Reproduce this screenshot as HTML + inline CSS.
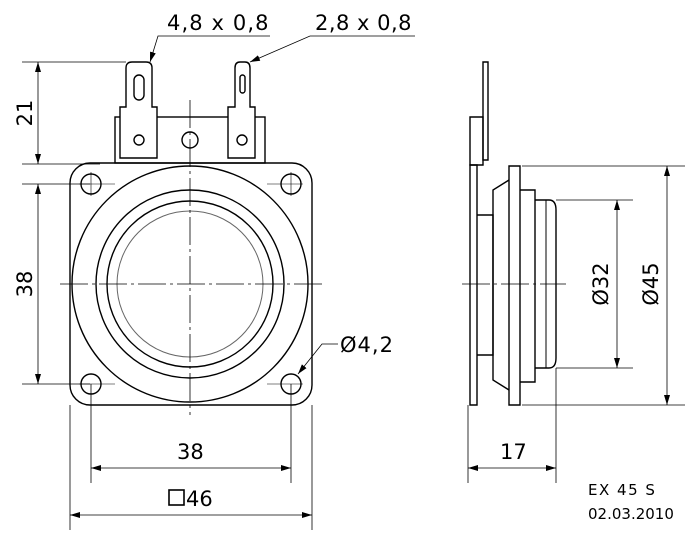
<!DOCTYPE html>
<html><head><meta charset="utf-8"><style>
html,body{margin:0;padding:0;background:#fff;width:700px;height:545px;overflow:hidden}
text{font-family:"DejaVu Sans","Liberation Sans",sans-serif;fill:#000}
</style></head><body>
<svg width="700" height="545" viewBox="0 0 700 545" xmlns="http://www.w3.org/2000/svg">
<defs>
<marker id="a" viewBox="0 0 10 6" refX="10" refY="3" markerWidth="10" markerHeight="6" orient="auto-start-reverse" markerUnits="userSpaceOnUse"><path d="M0,0L10,3L0,6z" fill="#000"/></marker>
</defs>
<g fill="none" stroke="#000" stroke-width="1.4">
<rect x="70" y="163" width="242" height="242" rx="20"/>
<circle cx="190" cy="284" r="118"/>
<circle cx="190" cy="284" r="94"/>
<circle cx="190" cy="284" r="83"/>
<circle cx="190" cy="284" r="73" stroke="#666" stroke-width="1"/>
<circle cx="91" cy="184" r="10"/><circle cx="291" cy="184" r="10"/>
<circle cx="91" cy="384" r="10"/><circle cx="291" cy="384" r="10"/>
<rect x="115" y="117" width="150" height="46"/>
<circle cx="190" cy="140" r="8"/>
<path d="M120,158V107H126V68Q126,62 132,62H146Q152,62 152,68V107H157V158Z" fill="#fff"/>
<rect x="134" y="75" width="10" height="25" rx="5"/>
<circle cx="139" cy="140" r="5"/>
<path d="M228,158V107H235V68Q235,62 240,62H245Q250,62 250,68V107H255V158Z" fill="#fff"/>
<rect x="240" y="75" width="5" height="18" rx="2.5"/>
<circle cx="242" cy="140" r="5"/>
<path d="M470,165H477V405H470Z"/>
<path d="M470,117H483V165H470Z"/>
<path d="M483,62H488V160H483Z"/>
<path d="M477,215H493V355H477"/>
<path d="M509,166H520V405H509Z"/>
<path d="M509,180L493,190V380L509,390"/>
<path d="M520,190H535V382H520"/>
<path d="M535,200H549Q556,200 556,210V358Q556,368 549,368H535"/>
<line x1="546" y1="200" x2="546" y2="368" stroke-width="1"/>
</g>
<g stroke="#000" stroke-width="0.8" fill="none">
<line x1="190" y1="100" x2="190" y2="415" stroke-dasharray="28,4,3,4"/>
<line x1="60" y1="284" x2="322" y2="284" stroke-dasharray="28,4,3,4"/>
<line x1="462" y1="284" x2="566" y2="284" stroke-dasharray="28,4,3,4"/>
<g stroke-width="0.6">
<line x1="91" y1="172" x2="91" y2="196"/><line x1="79" y1="184" x2="115" y2="184"/>
<line x1="291" y1="172" x2="291" y2="196"/><line x1="267" y1="184" x2="303" y2="184"/>
<line x1="79" y1="384" x2="115" y2="384"/><line x1="267" y1="384" x2="303" y2="384"/>
</g>
</g>
<g stroke="#000" stroke-width="0.8" fill="none">
<line x1="22" y1="62" x2="126" y2="62"/>
<line x1="22" y1="164" x2="100" y2="164"/>
<line x1="38" y1="62" x2="38" y2="164" marker-start="url(#a)" marker-end="url(#a)"/>
<line x1="22" y1="184" x2="90" y2="184"/>
<line x1="22" y1="384" x2="90" y2="384"/>
<line x1="38" y1="184" x2="38" y2="384" marker-start="url(#a)" marker-end="url(#a)"/>
<line x1="91" y1="384" x2="91" y2="483"/>
<line x1="291" y1="384" x2="291" y2="483"/>
<line x1="91" y1="468" x2="291" y2="468" marker-start="url(#a)" marker-end="url(#a)"/>
<line x1="70" y1="405" x2="70" y2="530"/>
<line x1="312" y1="405" x2="312" y2="530"/>
<line x1="70" y1="515" x2="312" y2="515" marker-start="url(#a)" marker-end="url(#a)"/>
<polyline points="270,36 158,36 150,62" marker-end="url(#a)"/>
<polyline points="415,36 310,36 250,62" marker-end="url(#a)"/>
<polyline points="338,344 322,344 298,374" marker-end="url(#a)"/>
<line x1="468" y1="405" x2="468" y2="483"/>
<line x1="556" y1="368" x2="556" y2="483"/>
<line x1="468" y1="468" x2="556" y2="468" marker-start="url(#a)" marker-end="url(#a)"/>
<line x1="522" y1="166" x2="685" y2="166"/>
<line x1="522" y1="405" x2="685" y2="405"/>
<line x1="667" y1="166" x2="667" y2="405" marker-start="url(#a)" marker-end="url(#a)"/>
<line x1="556" y1="200" x2="633" y2="200"/>
<line x1="556" y1="368" x2="633" y2="368"/>
<line x1="617" y1="200" x2="617" y2="368" marker-start="url(#a)" marker-end="url(#a)"/>
</g>
<g font-size="21">
<text x="167" y="30" letter-spacing="1.5" textLength="103">4,8 x 0,8</text>
<text x="315" y="30" letter-spacing="1.5" textLength="98">2,8 x 0,8</text>
<text x="340" y="352" letter-spacing="1">Ø4,2</text>
<text x="177" y="459">38</text>
<text x="186" y="506">46</text>
<text transform="translate(32,113) rotate(-90)" text-anchor="middle">21</text>
<text transform="translate(32,284) rotate(-90)" text-anchor="middle">38</text>
<text transform="translate(608,284) rotate(-90)" text-anchor="middle">Ø32</text>
<text transform="translate(658,284) rotate(-90)" text-anchor="middle">Ø45</text>
<text x="500" y="459">17</text>
</g>
<rect x="169" y="490" width="15" height="15" fill="none" stroke="#000" stroke-width="1.6"/>
<g font-size="15">
<text x="588" y="495" letter-spacing="1.5">EX 45 S</text>
<text x="588" y="519">02.03.2010</text>
</g>
</svg>
</body></html>
